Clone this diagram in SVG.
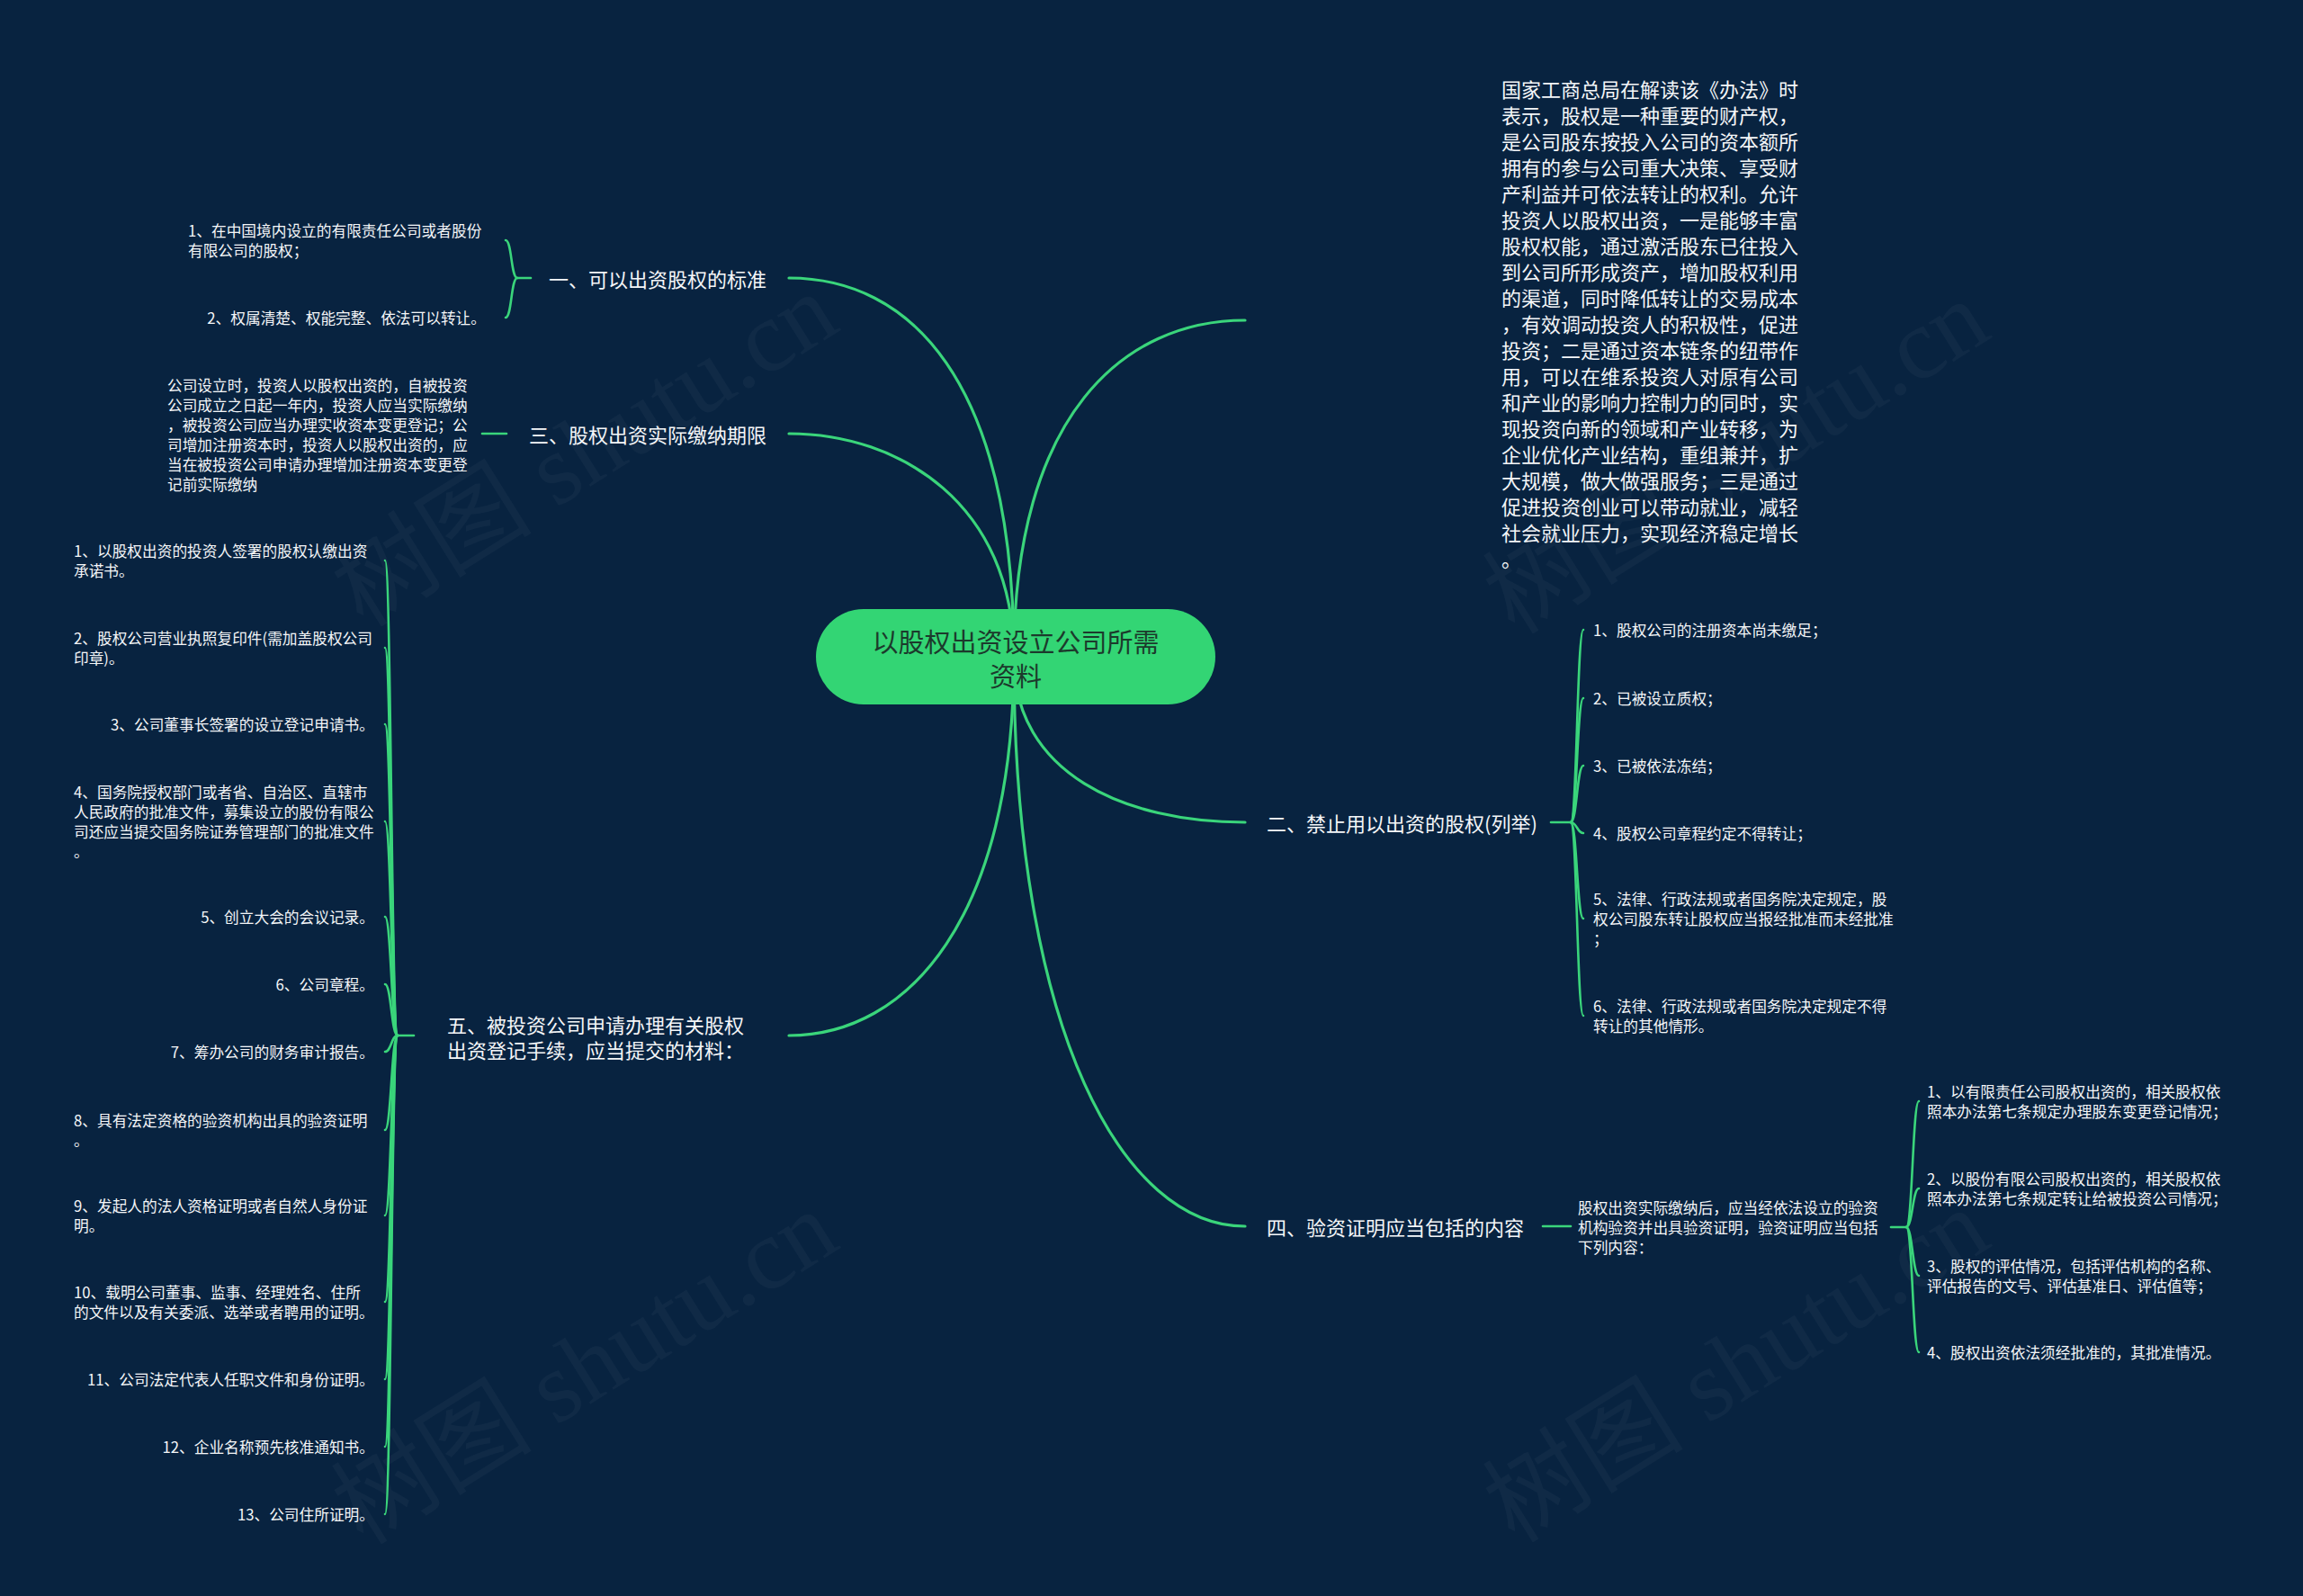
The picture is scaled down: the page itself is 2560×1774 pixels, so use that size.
<svg xmlns="http://www.w3.org/2000/svg" width="2560" height="1774" viewBox="0 0 2560 1774">
<style>
.bg{fill:#082340}
.conn{fill:none;stroke:#3ad57b;stroke-width:3.2;stroke-linecap:round}
.br{fill:none;stroke:#3ad57b;stroke-width:2.6;stroke-linecap:round}
.t{font-family:"Noto Sans CJK SC","Noto Sans",sans-serif;fill:#f4f6f8;dominant-baseline:central}
.lbl{font-size:22px}
.leaf{font-size:16.7px}
.end{text-anchor:end}
.root{font-family:"Noto Sans CJK SC","Noto Sans",sans-serif;font-size:29px;fill:#1c3a2c;text-anchor:middle;dominant-baseline:central}
.wm{font-family:"Liberation Serif","Noto Sans CJK SC",serif;font-size:112px;fill:#ffffff;fill-opacity:0.035;text-anchor:middle;dominant-baseline:central}
</style>
<rect class="bg" x="0" y="0" width="2560" height="1774"/>
<g id="watermarks">
<text class="wm" transform="translate(650,500) rotate(-32)">树图 shutu.cn</text>
<text class="wm" transform="translate(1930,508) rotate(-32)">树图 shutu.cn</text>
<text class="wm" transform="translate(650,1520) rotate(-32)">树图 shutu.cn</text>
<text class="wm" transform="translate(1930,1518) rotate(-32)">树图 shutu.cn</text>
</g>
<g id="connectors">
<path class="conn" d="M1127 731 C1127 420,1010 309,877 309"/>
<path class="conn" d="M1127 731 C1127 560,1000 482,877 482"/>
<path class="conn" d="M1127 731 C1127 1020,1010 1151,877 1151"/>
<path class="conn" d="M1127 731 C1127 460,1250 356,1384 356"/>
<path class="conn" d="M1127 731 C1127 860,1250 914,1384 914"/>
<path class="conn" d="M1127 731 C1127 1150,1250 1363,1384 1363"/>
<path class="br" d="M575 309 L590 309"/>
<path class="br" d="M575 309 C568 309,569 267,562 267"/>
<path class="br" d="M575 309 C568 309,569 353,562 353"/>
<path class="br" d="M536 482 L563 482"/>
<path class="br" d="M442 1151 L460 1151"/>
<path class="br" d="M442 1151 C435 1151,435 623,428 623"/>
<path class="br" d="M442 1151 C435 1151,435 720,428 720"/>
<path class="br" d="M442 1151 C435 1151,435 805,428 805"/>
<path class="br" d="M442 1151 C435 1151,435 913,428 913"/>
<path class="br" d="M442 1151 C435 1151,435 1019,428 1019"/>
<path class="br" d="M442 1151 C435 1151,435 1094,428 1094"/>
<path class="br" d="M442 1151 C435 1151,435 1169,428 1169"/>
<path class="br" d="M442 1151 C435 1151,435 1256,428 1256"/>
<path class="br" d="M442 1151 C435 1151,435 1351,428 1351"/>
<path class="br" d="M442 1151 C435 1151,435 1447,428 1447"/>
<path class="br" d="M442 1151 C435 1151,435 1533,428 1533"/>
<path class="br" d="M442 1151 C435 1151,435 1608,428 1608"/>
<path class="br" d="M442 1151 C435 1151,435 1683,428 1683"/>
<path class="br" d="M1724 914 L1746 914"/>
<path class="br" d="M1746 914 C1753 914,1753 700,1760 700"/>
<path class="br" d="M1746 914 C1753 914,1753 776,1760 776"/>
<path class="br" d="M1746 914 C1753 914,1753 851,1760 851"/>
<path class="br" d="M1746 914 C1753 914,1753 926,1760 926"/>
<path class="br" d="M1746 914 C1753 914,1753 1021,1760 1021"/>
<path class="br" d="M1746 914 C1753 914,1753 1129,1760 1129"/>
<path class="br" d="M1715 1363 L1746 1363"/>
<path class="br" d="M2102 1364 L2119 1364"/>
<path class="br" d="M2119 1364 C2126 1364,2126 1224,2133 1224"/>
<path class="br" d="M2119 1364 C2126 1364,2126 1321,2133 1321"/>
<path class="br" d="M2119 1364 C2126 1364,2126 1418,2133 1418"/>
<path class="br" d="M2119 1364 C2126 1364,2126 1503,2133 1503"/>
</g>
<g id="root">
<rect x="907" y="677" width="444" height="106" rx="53" ry="53" fill="#33d574"/>
<text class="root" x="1129" y="712">以股权出资设立公司所需</text>
<text class="root" x="1129" y="750">资料</text>
</g>
<g id="n-intro">
<text class="t lbl" x="1669" y="98">国家工商总局在解读该《办法》时</text>
<text class="t lbl" x="1669" y="127">表示，股权是一种重要的财产权，</text>
<text class="t lbl" x="1669" y="156">是公司股东按投入公司的资本额所</text>
<text class="t lbl" x="1669" y="185">拥有的参与公司重大决策、享受财</text>
<text class="t lbl" x="1669" y="214">产利益并可依法转让的权利。允许</text>
<text class="t lbl" x="1669" y="243">投资人以股权出资，一是能够丰富</text>
<text class="t lbl" x="1669" y="272">股权权能，通过激活股东已往投入</text>
<text class="t lbl" x="1669" y="301">到公司所形成资产，增加股权利用</text>
<text class="t lbl" x="1669" y="330">的渠道，同时降低转让的交易成本</text>
<text class="t lbl" x="1669" y="359">，有效调动投资人的积极性，促进</text>
<text class="t lbl" x="1669" y="388">投资；二是通过资本链条的纽带作</text>
<text class="t lbl" x="1669" y="417">用，可以在维系投资人对原有公司</text>
<text class="t lbl" x="1669" y="446">和产业的影响力控制力的同时，实</text>
<text class="t lbl" x="1669" y="475">现投资向新的领域和产业转移，为</text>
<text class="t lbl" x="1669" y="504">企业优化产业结构，重组兼并，扩</text>
<text class="t lbl" x="1669" y="533">大规模，做大做强服务；三是通过</text>
<text class="t lbl" x="1669" y="562">促进投资创业可以带动就业，减轻</text>
<text class="t lbl" x="1669" y="591">社会就业压力，实现经济稳定增长</text>
<text class="t lbl" x="1669" y="620">。</text>
</g>
<g id="n-1">
<text class="t lbl end" x="852" y="309">一、可以出资股权的标准</text>
</g>
<g id="n-1-1">
<text class="t leaf" x="209" y="256">1、在中国境内设立的有限责任公司或者股份</text>
<text class="t leaf" x="209" y="278">有限公司的股权；</text>
</g>
<g id="n-1-2">
<text class="t leaf end" x="540" y="353">2、权属清楚、权能完整、依法可以转让。</text>
</g>
<g id="n-3">
<text class="t lbl end" x="852" y="482">三、股权出资实际缴纳期限</text>
</g>
<g id="n-3-1">
<text class="t leaf" x="186" y="428">公司设立时，投资人以股权出资的，自被投资</text>
<text class="t leaf" x="186" y="450">公司成立之日起一年内，投资人应当实际缴纳</text>
<text class="t leaf" x="186" y="472">，被投资公司应当办理实收资本变更登记；公</text>
<text class="t leaf" x="186" y="494">司增加注册资本时，投资人以股权出资的，应</text>
<text class="t leaf" x="186" y="516">当在被投资公司申请办理增加注册资本变更登</text>
<text class="t leaf" x="186" y="538">记前实际缴纳</text>
</g>
<g id="n-5">
<text class="t lbl" x="497" y="1138">五、被投资公司申请办理有关股权</text>
<text class="t lbl" x="497" y="1166">出资登记手续，应当提交的材料：</text>
</g>
<g id="n-5-items">
<text class="t leaf" x="82" y="612">1、以股权出资的投资人签署的股权认缴出资</text>
<text class="t leaf" x="82" y="634">承诺书。</text>
<text class="t leaf" x="82" y="709">2、股权公司营业执照复印件(需加盖股权公司</text>
<text class="t leaf" x="82" y="731">印章)。</text>
<text class="t leaf end" x="416" y="805">3、公司董事长签署的设立登记申请书。</text>
<text class="t leaf" x="82" y="880">4、国务院授权部门或者省、自治区、直辖市</text>
<text class="t leaf" x="82" y="902">人民政府的批准文件，募集设立的股份有限公</text>
<text class="t leaf" x="82" y="924">司还应当提交国务院证券管理部门的批准文件</text>
<text class="t leaf" x="82" y="946">。</text>
<text class="t leaf end" x="416" y="1019">5、创立大会的会议记录。</text>
<text class="t leaf end" x="416" y="1094">6、公司章程。</text>
<text class="t leaf end" x="416" y="1169">7、筹办公司的财务审计报告。</text>
<text class="t leaf" x="82" y="1245">8、具有法定资格的验资机构出具的验资证明</text>
<text class="t leaf" x="82" y="1267">。</text>
<text class="t leaf" x="82" y="1340">9、发起人的法人资格证明或者自然人身份证</text>
<text class="t leaf" x="82" y="1362">明。</text>
<text class="t leaf" x="82" y="1436">10、载明公司董事、监事、经理姓名、住所</text>
<text class="t leaf" x="82" y="1458">的文件以及有关委派、选举或者聘用的证明。</text>
<text class="t leaf end" x="416" y="1533">11、公司法定代表人任职文件和身份证明。</text>
<text class="t leaf end" x="416" y="1608">12、企业名称预先核准通知书。</text>
<text class="t leaf end" x="416" y="1683">13、公司住所证明。</text>
</g>
<g id="n-2">
<text class="t lbl" x="1408" y="914">二、禁止用以出资的股权(列举)</text>
</g>
<g id="n-2-items">
<text class="t leaf" x="1771" y="700">1、股权公司的注册资本尚未缴足；</text>
<text class="t leaf" x="1771" y="776">2、已被设立质权；</text>
<text class="t leaf" x="1771" y="851">3、已被依法冻结；</text>
<text class="t leaf" x="1771" y="926">4、股权公司章程约定不得转让；</text>
<text class="t leaf" x="1771" y="999">5、法律、行政法规或者国务院决定规定，股</text>
<text class="t leaf" x="1771" y="1021">权公司股东转让股权应当报经批准而未经批准</text>
<text class="t leaf" x="1771" y="1043">；</text>
<text class="t leaf" x="1771" y="1118">6、法律、行政法规或者国务院决定规定不得</text>
<text class="t leaf" x="1771" y="1140">转让的其他情形。</text>
</g>
<g id="n-4">
<text class="t lbl" x="1408" y="1363">四、验资证明应当包括的内容</text>
</g>
<g id="n-4-1">
<text class="t leaf" x="1754" y="1342">股权出资实际缴纳后，应当经依法设立的验资</text>
<text class="t leaf" x="1754" y="1364">机构验资并出具验资证明，验资证明应当包括</text>
<text class="t leaf" x="1754" y="1386">下列内容：</text>
</g>
<g id="n-4-items">
<text class="t leaf" x="2142" y="1213">1、以有限责任公司股权出资的，相关股权依</text>
<text class="t leaf" x="2142" y="1235">照本办法第七条规定办理股东变更登记情况；</text>
<text class="t leaf" x="2142" y="1310">2、以股份有限公司股权出资的，相关股权依</text>
<text class="t leaf" x="2142" y="1332">照本办法第七条规定转让给被投资公司情况；</text>
<text class="t leaf" x="2142" y="1407">3、股权的评估情况，包括评估机构的名称、</text>
<text class="t leaf" x="2142" y="1429">评估报告的文号、评估基准日、评估值等；</text>
<text class="t leaf" x="2142" y="1503">4、股权出资依法须经批准的，其批准情况。</text>
</g>
</svg>
